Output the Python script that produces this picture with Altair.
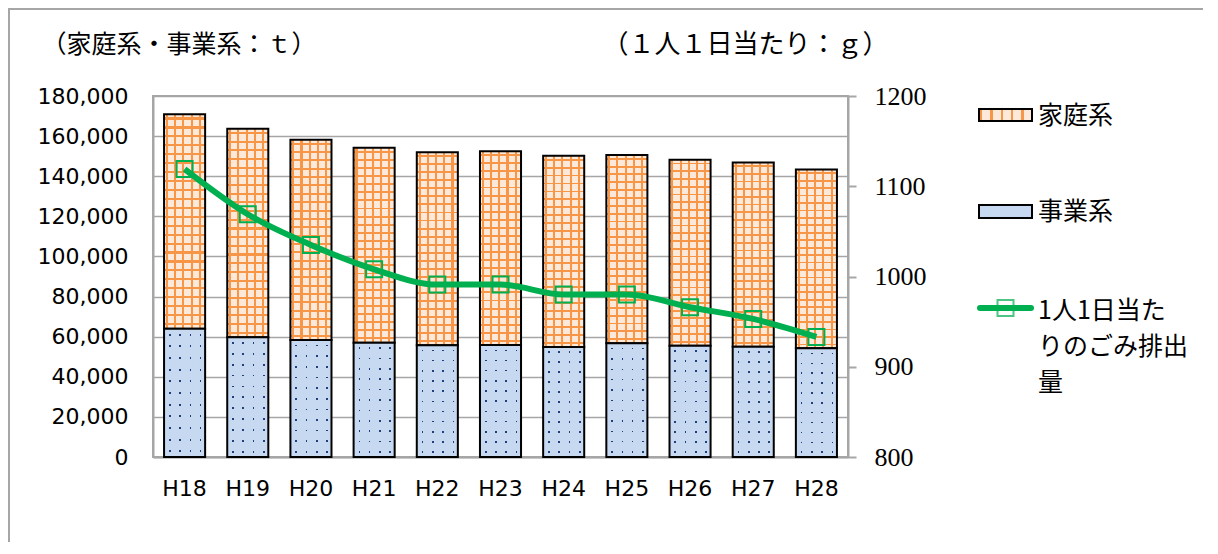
import altair as alt
import pandas as pd

# ---------------- data ----------------
years = ["H18", "H19", "H20", "H21", "H22", "H23",
         "H24", "H25", "H26", "H27", "H28"]
business = [64000, 59700, 58300, 57000, 55700, 55800, 54800, 56700, 55500, 55000, 54200]
household = [106900, 104000, 99900, 97200, 96200, 96600, 95400, 93900, 92700, 91900, 89100]
per_capita = [1119, 1069, 1035, 1008, 991, 991, 980, 980, 966, 953, 933]
series = ["家庭系", "事業系", "1人1日当たりのごみ排出量"]
left_title = "（家庭系・事業系：ｔ）"
right_title = "（１人１日当たり：ｇ）"
left_ticks = [0, 20000, 40000, 60000, 80000, 100000, 120000, 140000, 160000, 180000]
right_ticks = [800, 900, 1000, 1100, 1200]

df = pd.DataFrame({"year": years, "business": business,
                   "household": household, "per_capita": per_capita})
df["total"] = df["business"] + df["household"]
df["zero"] = 0

# ---------------- styles ----------------
ORANGE = "#F79646"
PEACH = "#FDE9D9"
BLUE = "#C6D9F1"
DOT = "#1F3F7A"
GREEN = "#00B050"
GRID = "#A6A6A6"
JP = "Noto Sans CJK JP"


def stripes(direction, starts, width, base, line):
    stops = [alt.GradientStop(color=base, offset=0)]
    for s in starts:
        stops += [alt.GradientStop(color=base, offset=s),
                  alt.GradientStop(color=line, offset=s),
                  alt.GradientStop(color=line, offset=s + width),
                  alt.GradientStop(color=base, offset=s + width)]
    stops.append(alt.GradientStop(color=base, offset=1))
    if direction == "x":
        return alt.LinearGradient(gradient="linear", stops=stops, x1=0, x2=1, y1=0, y2=0)
    return alt.LinearGradient(gradient="linear", stops=stops, x1=0, x2=0, y1=0, y2=1)


orange_v = stripes("x", [0.045 + 0.2 * k for k in range(5)], 0.05, PEACH, ORANGE)
orange_h = stripes("y", [0.015 + k / 24 for k in range(24)], 0.01, "rgba(247,150,70,0)", ORANGE)
blue_v = stripes("x", [0.12 + 0.25 * k for k in range(4)], 0.04, BLUE, DOT)
blue_h = stripes("y", [0.04 + k / 11 for k in range(11)], 0.014, BLUE, "rgba(198,217,241,0)")
legend_orange = stripes("x", [0.02 + 0.195 * k for k in range(5)], 0.04, PEACH, ORANGE)

x_enc = alt.X("year:N", sort=years,
              scale=alt.Scale(paddingInner=0.35, paddingOuter=0.175),
              axis=alt.Axis(title=None, labelAngle=0, ticks=False, labelPadding=21,
                            labelFont="DejaVu Sans", labelFontSize=22, labelColor="black",
                            domainColor=GRID, domainWidth=2, grid=False))

left_axis = alt.Axis(values=left_ticks, labelExpr="format(datum.value, ',')",
                     grid=True, gridColor=GRID, gridWidth=1.5,
                     domainColor=GRID, domainWidth=2, ticks=False, labelPadding=25,
                     labelFont="DejaVu Sans", labelFontSize=22, labelColor="black",
                     labelOverlap=False,
                     title=left_title, titleAngle=0, titleX=-112, titleY=-52,
                     titleAlign="left", titleBaseline="middle", titleFont=JP,
                     titleFontSize=25, titleFontWeight="normal", titleColor="black")

right_axis = alt.Axis(orient="right", values=right_ticks, labelExpr="format(datum.value, 'd')",
                      grid=False,
                      domainColor=GRID, domainWidth=2, tickColor=GRID, tickWidth=2, tickSize=8,
                      labelPadding=18, labelFont="Liberation Serif", labelFontSize=26,
                      labelColor="black", labelOverlap=False,
                      title=right_title, titleAngle=0, titleX=-246, titleY=-52,
                      titleAlign="left", titleBaseline="middle", titleFont=JP,
                      titleFontSize=26, titleFontWeight="normal", titleColor="black")

left_scale = alt.Scale(domain=[0, 180000], nice=False)

base = alt.Chart(df)

orange1 = base.mark_bar(fill=orange_v, strokeWidth=0).encode(
    x=x_enc, y=alt.Y("business:Q", scale=left_scale, axis=left_axis), y2="total:Q")
orange2 = base.mark_bar(fill=orange_h, stroke="black", strokeWidth=2).encode(
    x=x_enc, y=alt.Y("business:Q", scale=left_scale, axis=left_axis), y2="total:Q")
blue1 = base.mark_bar(fill=blue_v, strokeWidth=0).encode(
    x=x_enc, y=alt.Y("zero:Q", scale=left_scale, axis=left_axis), y2="business:Q")
blue2 = base.mark_bar(fill=blue_h, stroke="black", strokeWidth=2).encode(
    x=x_enc, y=alt.Y("zero:Q", scale=left_scale, axis=left_axis), y2="business:Q")

bars = alt.layer(orange1, orange2, blue1, blue2)

line = base.mark_line(color=GREEN, strokeWidth=6, interpolate="monotone",
                      point=alt.OverlayMarkDef(shape="square", filled=False, size=256,
                                               stroke=GREEN, strokeWidth=2)).encode(
    x=x_enc,
    y=alt.Y("per_capita:Q", scale=alt.Scale(domain=[800, 1200], nice=False, zero=False),
            axis=right_axis))

one = pd.DataFrame({"a": [0]})
frame = alt.Chart(one).mark_rect(filled=False, stroke=GRID, strokeWidth=2).encode(
    x=alt.value(-144), x2=alt.value(1200), y=alt.value(-87), y2=alt.value(600))

leg_rect1 = alt.Chart(one).mark_rect(fill=legend_orange, stroke="black", strokeWidth=2).encode(
    x=alt.value(826), x2=alt.value(879), y=alt.value(13), y2=alt.value(25))
leg_rect2 = alt.Chart(one).mark_rect(fill=BLUE, stroke="black", strokeWidth=2).encode(
    x=alt.value(826), x2=alt.value(879), y=alt.value(109), y2=alt.value(122))
leg_line = alt.Chart(one).mark_rule(color=GREEN, strokeWidth=6, strokeCap="round").encode(
    x=alt.value(827), x2=alt.value(878), y=alt.value(212))
leg_pt = alt.Chart(one).mark_point(shape="square", filled=False, size=256, stroke=GREEN,
                                   strokeWidth=2).encode(x=alt.value(852.5), y=alt.value(212))

wrapped = series[2][:6] + "\n" + series[2][6:12] + "\n" + series[2][12:]
leg_txt = alt.Chart(pd.DataFrame({"label": [series[0]]})).mark_text(
    font=JP, fontSize=25, align="left", baseline="middle", color="black").encode(
    text="label:N", x=alt.value(885), y=alt.value(20))
leg_txt2 = alt.Chart(pd.DataFrame({"label": [series[1]]})).mark_text(
    font=JP, fontSize=25, align="left", baseline="middle", color="black").encode(
    text="label:N", x=alt.value(885), y=alt.value(115.5))
leg_txt3 = alt.Chart(pd.DataFrame({"label": [wrapped]})).mark_text(
    font=JP, fontSize=25, align="left", baseline="top", color="black",
    lineBreak="\n", lineHeight=36).encode(
    text="label:N", x=alt.value(885), y=alt.value(203))

chart = alt.layer(
    bars, line, frame, leg_rect1, leg_rect2, leg_line, leg_pt, leg_txt, leg_txt2, leg_txt3
).resolve_scale(y="independent").properties(
    width=695, height=361, autosize="none",
    padding={"left": 145, "top": 88, "right": 355, "bottom": 85},
    background="white"
).configure_view(stroke=GRID, strokeWidth=2)

chart.save("out.html", embed_options={"renderer": "svg", "actions": False})
